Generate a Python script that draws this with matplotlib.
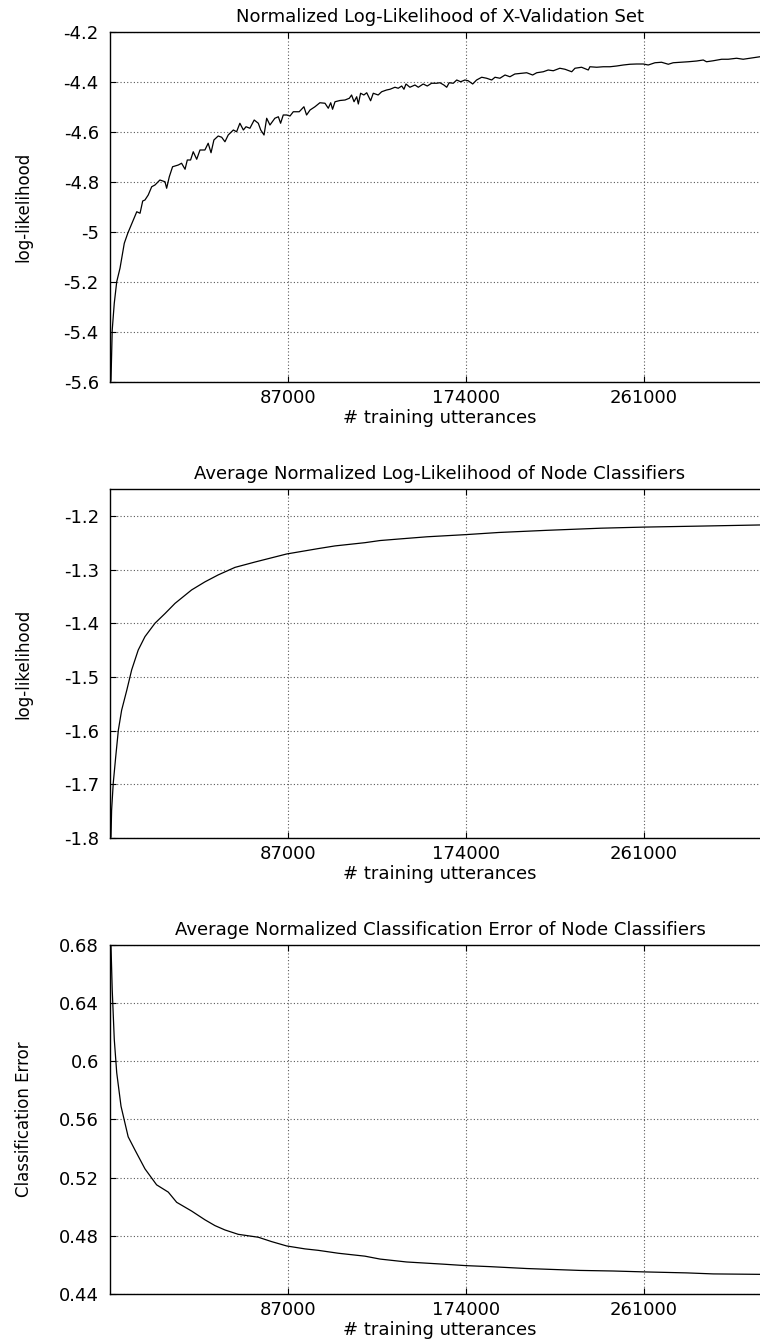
import matplotlib
matplotlib.use("Agg")
import matplotlib.pyplot as plt
from matplotlib import font_manager

# --- data ------------------------------------------------------------------

x_xval = [300, 500, 1100, 2100, 3300, 4900, 7000, 8700, 10600, 13100, 14700,
          16000, 17100, 18700, 20400, 22000, 24400, 26900, 27700, 29000, 30600,
          33400, 35000, 36700, 37800, 39400, 40700, 42400, 44000, 46400, 48000,
          49400, 50800, 52900, 54600, 56200, 57800, 60300, 61900, 63500, 65200,
          66500, 68400, 70500, 72500, 73700, 75300, 76600, 78200, 80600, 82300,
          83400, 84700, 86400, 88000, 89600, 92500, 94800, 96100, 97800, 100200,
          102600, 105100, 106700, 107900, 108800, 110000, 112400, 114900, 117000,
          118100, 119300, 120600, 121400, 122500, 124100, 125500, 127400, 128700,
          131100, 132800, 135200, 136900, 139300, 140900, 142600, 143700, 144700,
          146600, 149100, 150700, 153100, 155100, 157200, 159700, 161300, 163200,
          164600, 165800, 167800, 169500, 171400, 173500, 175100, 177300, 179200,
          181700, 184100, 186600, 188200, 190600, 193100, 195500, 197900, 201200,
          203700, 206600, 208600, 211800, 214200, 216700, 219900, 222400, 225700,
          227300, 230500, 233800, 234600, 237900, 241100, 244400, 247700, 250900,
          254200, 257400, 260700, 263100, 266400, 269600, 272900, 275300, 279400,
          282700, 286800, 290000, 291600, 294900, 299000, 302200, 306300, 309500,
          312800, 316100, 317700]
ll_xval = [-5.600, -5.592, -5.392, -5.285, -5.199, -5.145, -5.045, -5.005,
           -4.968, -4.919, -4.925, -4.876, -4.872, -4.852, -4.819, -4.812,
           -4.792, -4.799, -4.825, -4.779, -4.739, -4.732, -4.725, -4.749,
           -4.712, -4.712, -4.679, -4.709, -4.672, -4.672, -4.645, -4.683,
           -4.632, -4.616, -4.621, -4.639, -4.612, -4.592, -4.599, -4.565,
           -4.592, -4.579, -4.585, -4.552, -4.565, -4.592, -4.612, -4.545,
           -4.572, -4.545, -4.539, -4.565, -4.532, -4.532, -4.536, -4.519,
           -4.519, -4.499, -4.532, -4.512, -4.499, -4.483, -4.485, -4.505,
           -4.483, -4.509, -4.479, -4.474, -4.472, -4.465, -4.452, -4.479,
           -4.459, -4.488, -4.445, -4.452, -4.443, -4.475, -4.445, -4.452,
           -4.439, -4.432, -4.429, -4.421, -4.425, -4.416, -4.429, -4.408,
           -4.421, -4.412, -4.421, -4.408, -4.416, -4.405, -4.405, -4.403,
           -4.412, -4.421, -4.403, -4.405, -4.392, -4.399, -4.392, -4.395,
           -4.408, -4.392, -4.381, -4.385, -4.392, -4.381, -4.385, -4.372,
           -4.379, -4.368, -4.365, -4.363, -4.372, -4.363, -4.359, -4.352,
           -4.355, -4.345, -4.349, -4.359, -4.345, -4.341, -4.352, -4.339,
           -4.341, -4.339, -4.339, -4.336, -4.332, -4.329, -4.328, -4.328,
           -4.332, -4.323, -4.321, -4.329, -4.323, -4.321, -4.319, -4.316,
           -4.312, -4.319, -4.315, -4.309, -4.309, -4.305, -4.309, -4.305,
           -4.301, -4.299]

x_node = [300, 500, 800, 1600, 2800, 4100, 5700, 8200, 10600, 13800, 17100,
          22000, 26900, 31800, 39900, 46400, 52900, 61100, 70900, 86400, 101800,
          110000, 124600, 132000, 141700, 155000, 173900, 190000, 213400, 240000,
          260700, 290000, 317700]
ll_node = [-1.800, -1.798, -1.748, -1.698, -1.649, -1.599, -1.562, -1.525,
           -1.487, -1.450, -1.425, -1.400, -1.382, -1.363, -1.338, -1.323,
           -1.310, -1.296, -1.286, -1.271, -1.261, -1.256, -1.250, -1.246,
           -1.243, -1.239, -1.235, -1.231, -1.227, -1.223, -1.221, -1.219,
           -1.217]

x_err = [300, 500, 1100, 2100, 3300, 5400, 8900, 12200, 17100, 22800, 28500,
         32600, 39900, 46400, 51300, 56200, 62700, 72500, 79000, 86400, 95300,
         101800, 111600, 124600, 132000, 145000, 162900, 173900, 185700, 203700,
         229700, 246000, 260700, 281900, 294900, 317700]
err_node = [0.680, 0.679, 0.649, 0.615, 0.592, 0.569, 0.548, 0.539, 0.526,
            0.515, 0.510, 0.503, 0.497, 0.491, 0.487, 0.484, 0.481, 0.479,
            0.476, 0.473, 0.471, 0.470, 0.468, 0.466, 0.464, 0.462, 0.4605,
            0.4595, 0.4588, 0.4575, 0.4562, 0.4558, 0.4552, 0.4545, 0.4538,
            0.4535]

x_ticks = [87000, 174000, 261000]

# --- styling ---------------------------------------------------------------

installed = {f.name for f in font_manager.fontManager.ttflist}
if "Liberation Sans Narrow" in installed:
    ylab_font, ylab_size = "Liberation Sans Narrow", 14
else:
    ylab_font, ylab_size = "DejaVu Sans Condensed", 12

plt.rcParams["font.family"] = ["DejaVu Sans"]
plt.rcParams["font.size"] = 13

fig = plt.figure(figsize=(7.6, 13.4), dpi=100)

left, width = 0.1447, 0.8684
panels = [
    (0.71493, 0.26119, x_xval, ll_xval, (-5.6, -4.2), [-5.6, -5.4, -5.2, -5.0, -4.8, -4.6, -4.4, -4.2],
     ["-5.6", "-5.4", "-5.2", "-5", "-4.8", "-4.6", "-4.4", "-4.2"],
     "Normalized Log-Likelihood of X-Validation Set", "log-likelihood"),
    (0.37463, 0.26045, x_node, ll_node, (-1.8, -1.15), [-1.8, -1.7, -1.6, -1.5, -1.4, -1.3, -1.2],
     ["-1.8", "-1.7", "-1.6", "-1.5", "-1.4", "-1.3", "-1.2"],
     "Average Normalized Log-Likelihood of Node Classifiers", "log-likelihood"),
    (0.03433, 0.26067, x_err, err_node, (0.44, 0.68), [0.44, 0.48, 0.52, 0.56, 0.6, 0.64, 0.68],
     ["0.44", "0.48", "0.52", "0.56", "0.6", "0.64", "0.68"],
     "Average Normalized Classification Error of Node Classifiers", "Classification Error"),
]

for bottom, height, xs, ys, ylim, yt, ytl, title, ylabel in panels:
    ax = fig.add_axes([left, bottom, width, height])
    ax.plot(xs, ys, color="black", linewidth=0.9)
    ax.set_xlim(0, 322600)
    ax.set_ylim(*ylim)
    ax.set_xticks(x_ticks)
    ax.set_xticklabels([str(t) for t in x_ticks])
    ax.set_yticks(yt)
    ax.set_yticklabels(ytl)
    ax.grid(True, color="0.35", linestyle=(0, (1, 2)), linewidth=0.8)
    ax.tick_params(direction="in", length=4, width=0.8, top=True, right=True,
                   labelsize=13, colors="black")
    ax.tick_params(axis="y", pad=8)
    ax.tick_params(axis="x", pad=5)
    for s in ax.spines.values():
        s.set_linewidth(1.0)
    ax.set_title(title, fontsize=13, pad=7)
    ax.set_xlabel("# training utterances", fontsize=13)
    ax.xaxis.set_label_coords(0.5, -0.078)
    ax.set_ylabel(ylabel, family=[ylab_font, "DejaVu Sans"], fontsize=ylab_size)
    ax.yaxis.set_label_coords(-0.117, 0.5)

fig.savefig("out.png", dpi=100)
